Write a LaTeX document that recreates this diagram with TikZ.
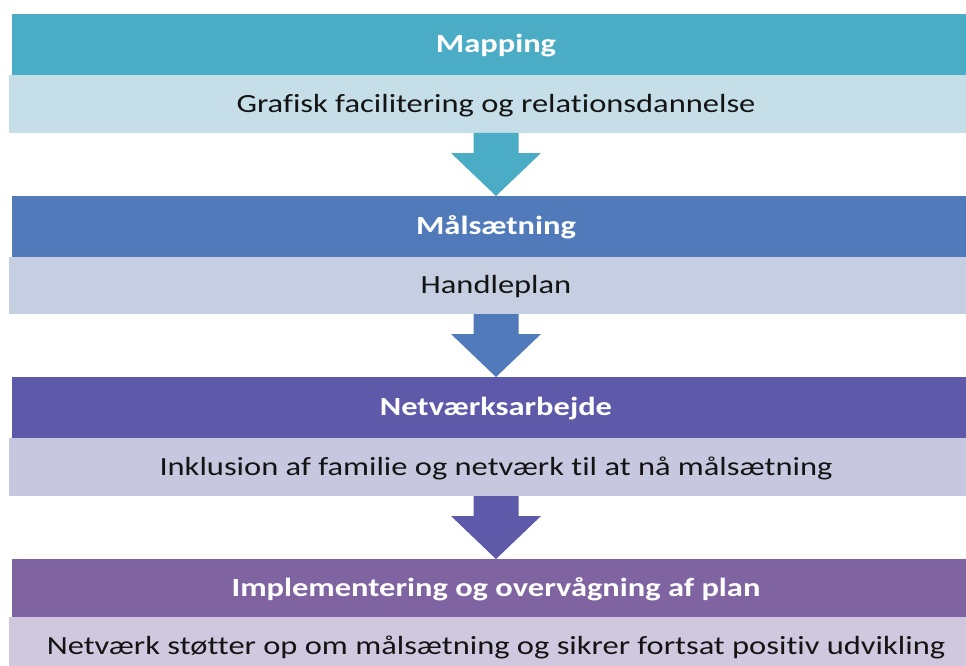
\documentclass[tikz,border=0pt]{standalone}
\usepackage{graphicx}
\usepackage{fontspec}
\setmainfont{Carlito}[Ligatures={NoCommon}]
\usetikzlibrary{calc}

\definecolor{headA}{RGB}{75,172,198}
\definecolor{bandA}{RGB}{197,222,231}
\definecolor{headB}{RGB}{80,122,186}
\definecolor{bandB}{RGB}{197,207,225}
\definecolor{headC}{RGB}{95,89,169}
\definecolor{bandC}{RGB}{200,199,224}
\definecolor{headD}{RGB}{128,99,161}
\definecolor{bandD}{RGB}{207,200,223}
\definecolor{inktext}{RGB}{20,20,20}

% text set slightly wide
\newcommand{\widetext}[1]{\scalebox{1.24}[1]{#1}}

\tikzset{
  headbox/.style={rectangle, inner sep=0pt, outer sep=0pt,
    minimum width=968pt, text=white, text height=16.7pt, text depth=0pt,
    font=\fontsize{26.2}{30}\selectfont\bfseries},
  bandbox/.style={rectangle, inner sep=0pt, outer sep=0pt,
    minimum width=974pt, text=inktext, text height=16.7pt, text depth=0pt,
    font=\fontsize{26.2}{30}\selectfont},
}

% block arrow from the bottom of one band down to the top of the next header
\newcommand{\flowarrow}[3]{%
  \fill[#3] ($(#1.south)+(-22.5,0)$) -- ($(#1.south)+(22.5,0)$)
    -- ($(#2.north)+(22.5,-43)$) -- ($(#2.north)+(45,-43)$)
    -- (#2.north)
    -- ($(#2.north)+(-45,-43)$) -- ($(#2.north)+(-22.5,-43)$) -- cycle;}

\begin{document}
\begin{tikzpicture}[x=1pt,y=-1pt]
\useasboundingbox (0,0) rectangle (966,666);
\clip (0,0) rectangle (966,666);
\fill[white] (0,0) rectangle (966,666);

% step 1
\node[headbox, fill=headA, minimum height=61pt] (h1) at (496,44.5) {\widetext{Mapping}};
\node[bandbox, fill=bandA, minimum height=58pt] (b1) at (496,104) {\widetext{Grafisk facilitering og relationsdannelse}};
% step 2
\node[headbox, fill=headB, minimum height=61pt] (h2) at (496,226.5) {\widetext{Målsætning}};
\node[bandbox, fill=bandB, minimum height=57pt] (b2) at (496,285.5) {\widetext{Handleplan}};
% step 3
\node[headbox, fill=headC, minimum height=61pt] (h3) at (496,407.5) {\widetext{Netværksarbejde}};
\node[bandbox, fill=bandC, minimum height=58pt] (b3) at (496,467) {\widetext{Inklusion af familie og netværk til at nå målsætning}};
% step 4
\node[headbox, fill=headD, minimum height=58pt] (h4) at (496,588) {\widetext{Implementering og overvågning af plan}};
\node[bandbox, fill=bandD, minimum height=58pt] (b4) at (496,646) {\widetext{Netværk støtter op om målsætning og sikrer fortsat positiv udvikling}};

\flowarrow{b1}{h2}{headA}
\flowarrow{b2}{h3}{headB}
\flowarrow{b3}{h4}{headC}
\end{tikzpicture}
\end{document}
